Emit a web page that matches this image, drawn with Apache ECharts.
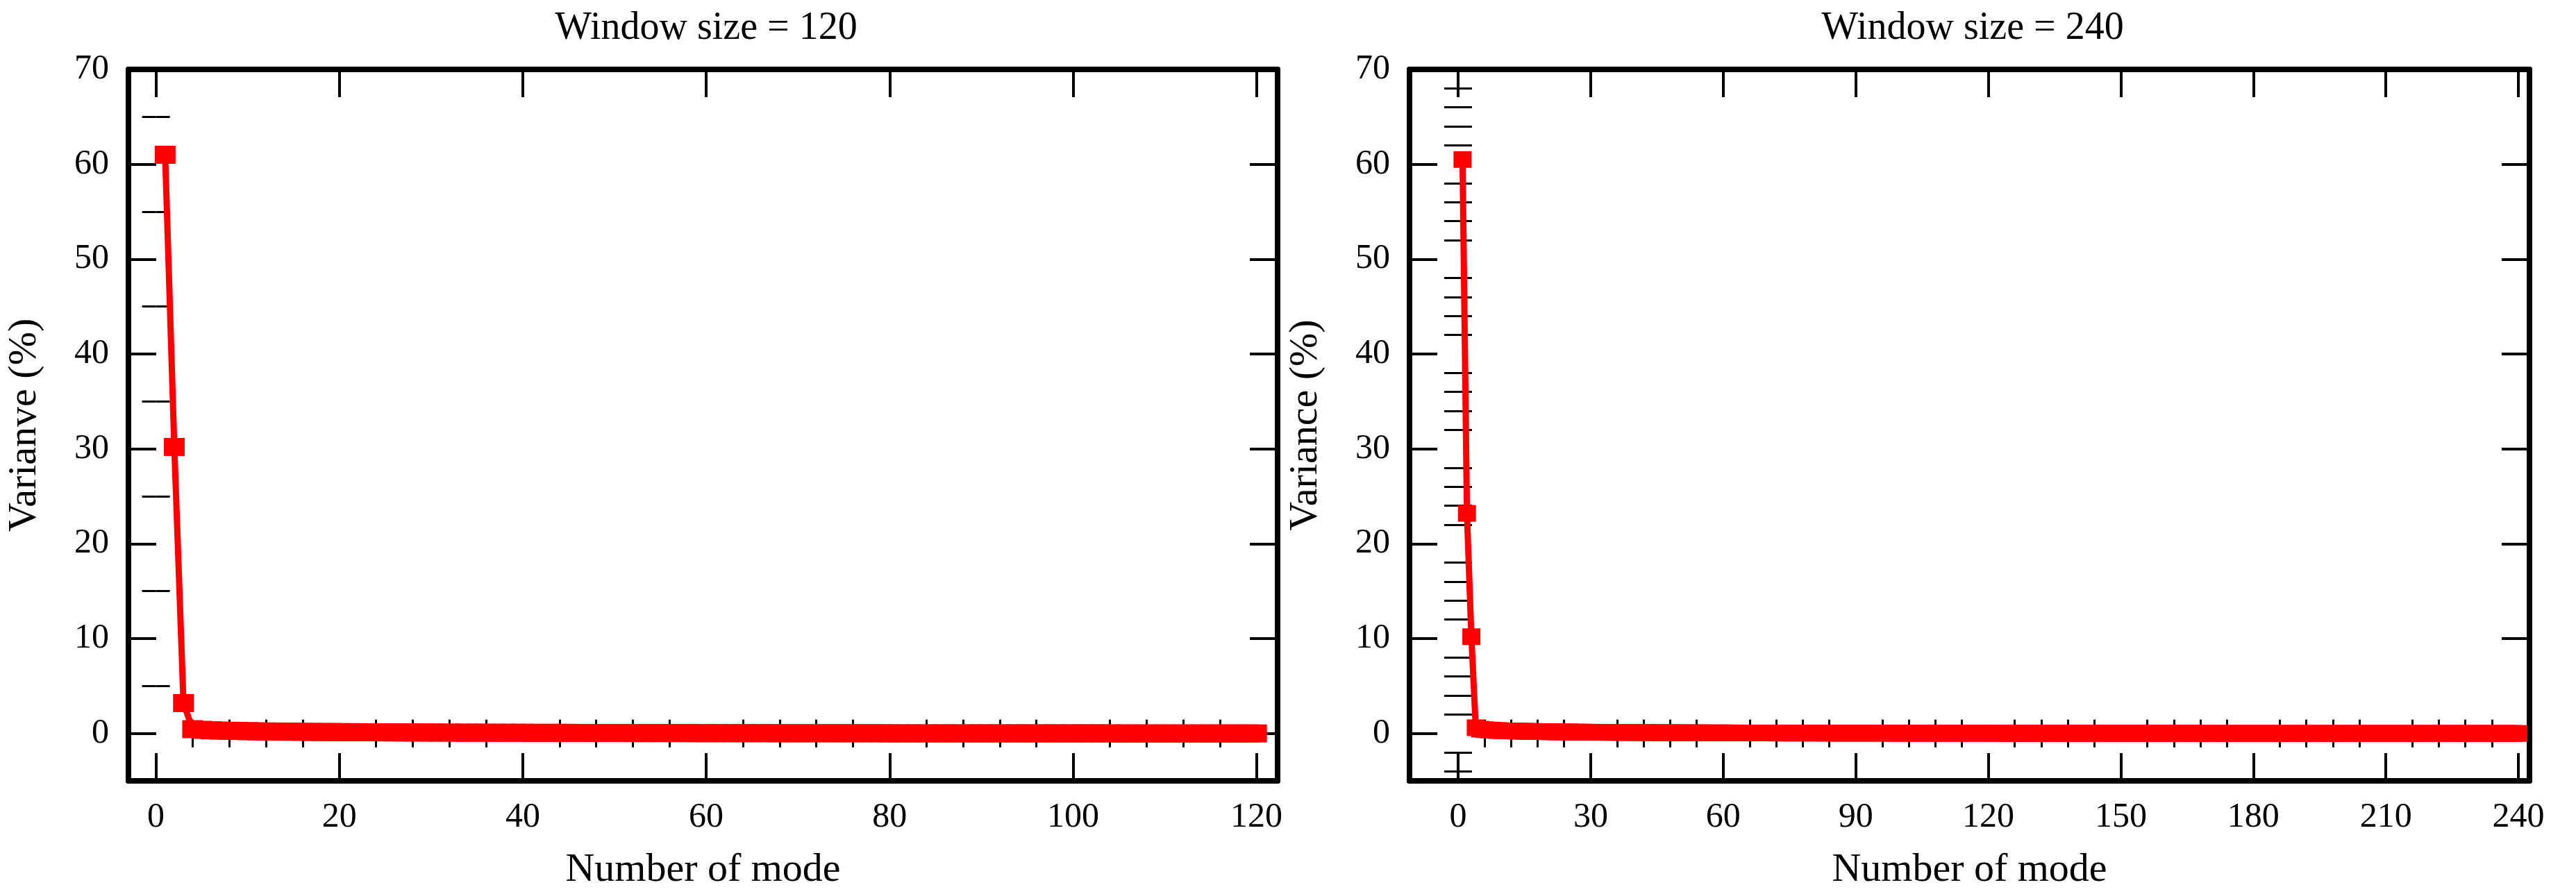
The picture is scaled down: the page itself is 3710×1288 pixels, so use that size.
<!DOCTYPE html>
<html>
<head>
<meta charset="utf-8">
<script src="https://cdn.jsdelivr.net/npm/echarts@6/dist/echarts.min.js"></script>
<style>html,body{margin:0;padding:0;background:#fff}#chart{width:3710px;height:1288px}</style>
</head>
<body>
<div id="chart"></div>
<script>
// variance (%) per mode, window size 120
var variance120 = [
  61.0, 30.2, 3.2, 0.45, 0.38, 0.33, 0.30, 0.28, 0.26, 0.24,
  0.22, 0.21, 0.20, 0.19, 0.18, 0.17, 0.16, 0.15, 0.15, 0.14,
  0.13, 0.13, 0.12, 0.12, 0.11, 0.11, 0.10, 0.10, 0.10, 0.09,
  0.09, 0.09, 0.08, 0.08, 0.08, 0.08, 0.07, 0.07, 0.07, 0.07,
  0.06, 0.06, 0.06, 0.06, 0.06, 0.05, 0.05, 0.05, 0.05, 0.05,
  0.05, 0.04, 0.04, 0.04, 0.04, 0.04, 0.04, 0.04, 0.03, 0.03,
  0.03, 0.03, 0.03, 0.03, 0.03, 0.03, 0.03, 0.02, 0.02, 0.02,
  0.02, 0.02, 0.02, 0.02, 0.02, 0.02, 0.02, 0.02, 0.02, 0.01,
  0.01, 0.01, 0.01, 0.01, 0.01, 0.01, 0.01, 0.01, 0.01, 0.01,
  0.01, 0.01, 0.01, 0.01, 0.01, 0.01, 0.01, 0.01, 0.01, 0.01,
  0.01, 0.01, 0.01, 0.01, 0.00, 0.00, 0.00, 0.00, 0.00, 0.00,
  0.00, 0.00, 0.00, 0.00, 0.00, 0.00, 0.00, 0.00, 0.00, 0.00
];
// variance (%) per mode, window size 240
var variance240 = [
  60.5, 23.2, 10.2, 0.60, 0.45, 0.40, 0.36, 0.33, 0.31, 0.29,
  0.27, 0.26, 0.25, 0.24, 0.23, 0.22, 0.21, 0.20, 0.19, 0.18,
  0.18, 0.17, 0.16, 0.16, 0.15, 0.15, 0.14, 0.14, 0.13, 0.13,
  0.12, 0.12, 0.12, 0.11, 0.11, 0.11, 0.10, 0.10, 0.10, 0.10,
  0.09, 0.09, 0.09, 0.09, 0.08, 0.08, 0.08, 0.08, 0.08, 0.07,
  0.07, 0.07, 0.07, 0.07, 0.07, 0.06, 0.06, 0.06, 0.06, 0.06,
  0.06, 0.06, 0.05, 0.05, 0.05, 0.05, 0.05, 0.05, 0.05, 0.05,
  0.05, 0.04, 0.04, 0.04, 0.04, 0.04, 0.04, 0.04, 0.04, 0.04,
  0.04, 0.04, 0.03, 0.03, 0.03, 0.03, 0.03, 0.03, 0.03, 0.03,
  0.03, 0.03, 0.03, 0.03, 0.03, 0.03, 0.03, 0.02, 0.02, 0.02,
  0.02, 0.02, 0.02, 0.02, 0.02, 0.02, 0.02, 0.02, 0.02, 0.02,
  0.02, 0.02, 0.02, 0.02, 0.02, 0.02, 0.02, 0.02, 0.02, 0.02,
  0.02, 0.01, 0.01, 0.01, 0.01, 0.01, 0.01, 0.01, 0.01, 0.01,
  0.01, 0.01, 0.01, 0.01, 0.01, 0.01, 0.01, 0.01, 0.01, 0.01,
  0.01, 0.01, 0.01, 0.01, 0.01, 0.01, 0.01, 0.01, 0.01, 0.01,
  0.01, 0.01, 0.01, 0.01, 0.01, 0.01, 0.01, 0.01, 0.01, 0.01,
  0.01, 0.01, 0.01, 0.01, 0.01, 0.01, 0.01, 0.01, 0.00, 0.00,
  0.00, 0.00, 0.00, 0.00, 0.00, 0.00, 0.00, 0.00, 0.00, 0.00,
  0.00, 0.00, 0.00, 0.00, 0.00, 0.00, 0.00, 0.00, 0.00, 0.00,
  0.00, 0.00, 0.00, 0.00, 0.00, 0.00, 0.00, 0.00, 0.00, 0.00,
  0.00, 0.00, 0.00, 0.00, 0.00, 0.00, 0.00, 0.00, 0.00, 0.00,
  0.00, 0.00, 0.00, 0.00, 0.00, 0.00, 0.00, 0.00, 0.00, 0.00,
  0.00, 0.00, 0.00, 0.00, 0.00, 0.00, 0.00, 0.00, 0.00, 0.00,
  0.00, 0.00, 0.00, 0.00, 0.00, 0.00, 0.00, 0.00, 0.00, 0.00
];
var titles = ['Window size = 120', 'Window size = 240'];
var yNames = ['Varianve (%)', 'Variance (%)'];
var xName = 'Number of mode';
var yTicks = [0, 10, 20, 30, 40, 50, 60, 70];
var xTicks120 = [0, 20, 40, 60, 80, 100, 120];
var xTicks240 = [0, 30, 60, 90, 120, 150, 180, 210, 240];

var font = '"Liberation Serif", "DejaVu Serif", serif';
var red = '#ff0000';

function pairs(arr) {
  return arr.map(function (v, i) { return [i + 1, v]; });
}

function minorsOf(lo, hi, step, major) {
  var out = [];
  for (var t = lo; t <= hi + 1e-9; t += step) {
    if (Math.abs(t / major - Math.round(t / major)) > 1e-6) out.push(t);
  }
  return out;
}

var xAxes = [], yAxes = [];

function addAxes(gi, xmin, xmax, xMajor, xMinor, yName, yMinor) {
  var lineStyle = {color: '#000', width: 8};
  ['bottom', 'top'].forEach(function (pos) {
    var isMain = pos === 'bottom';
    xAxes.push({
      gridIndex: gi, type: 'value', min: xmin, max: xmax, position: pos,
      name: isMain ? xName : '', nameLocation: 'middle', nameGap: 100,
      nameTextStyle: {fontFamily: font, fontSize: 58, color: '#000'},
      axisLine: {onZero: false, lineStyle: lineStyle},
      axisTick: {inside: true, length: 40, customValues: xMajor, lineStyle: {color: '#000', width: 4}},
      axisLabel: isMain ? {fontFamily: font, fontSize: 50, color: '#000', margin: 28, customValues: xMajor}
                        : {show: false},
      splitLine: {show: false}
    });
    xAxes.push({
      gridIndex: gi, type: 'value', min: xmin, max: xmax, position: pos,
      axisLine: {show: false}, axisLabel: {show: false}, splitLine: {show: false},
      axisTick: {inside: true, length: 20, customValues: xMinor, lineStyle: {color: '#000', width: 3}}
    });
  });
  ['left', 'right'].forEach(function (pos) {
    var isMain = pos === 'left';
    yAxes.push({
      gridIndex: gi, type: 'value', min: -5, max: 70, position: pos,
      name: isMain ? yName : '', nameLocation: 'middle', nameGap: 120,
      nameTextStyle: {fontFamily: font, fontSize: 58, color: '#000'},
      axisLine: {onZero: false, lineStyle: lineStyle},
      axisTick: {inside: true, length: 40, customValues: yTicks, lineStyle: {color: '#000', width: 4}},
      axisLabel: isMain ? {fontFamily: font, fontSize: 50, color: '#000', margin: 28, customValues: yTicks}
                        : {show: false},
      splitLine: {show: false}
    });
    yAxes.push({
      gridIndex: gi, type: 'value', min: -5, max: 70, position: pos,
      axisLine: {show: false}, axisLabel: {show: false}, splitLine: {show: false},
      axisTick: {inside: true, length: 20, customValues: yMinor, lineStyle: {color: '#000', width: 3}}
    });
  });
}

addAxes(0, -3, 122.3, xTicks120, minorsOf(0, 120, 4, 20), yNames[0], minorsOf(-5, 70, 5, 10));
addAxes(1, -11, 242.5, xTicks240, minorsOf(0, 240, 6, 30), yNames[1], minorsOf(-4, 70, 2, 10));

function lineSeries(xi, yi, arr, sym) {
  return {
    type: 'line', xAxisIndex: xi, yAxisIndex: yi, data: pairs(arr),
    symbol: 'rect', symbolSize: sym, showSymbol: true,
    lineStyle: {color: red, width: 9}, itemStyle: {color: red},
    animation: false, z: 5
  };
}

var option = {
  backgroundColor: '#fff',
  animation: false,
  title: [
    {text: titles[0], left: 1012, top: 8, textAlign: 'center',
      textStyle: {fontFamily: font, fontSize: 56, fontWeight: 'normal', color: '#000'}},
    {text: titles[1], left: 2836, top: 8, textAlign: 'center',
      textStyle: {fontFamily: font, fontSize: 56, fontWeight: 'normal', color: '#000'}}
  ],
  grid: [
    {left: 185, right: 1870, top: 100, bottom: 145},
    {left: 2030, right: 67, top: 100, bottom: 145}
  ],
  xAxis: xAxes,
  yAxis: yAxes,
  series: [
    lineSeries(0, 0, variance120, [30, 26]),
    lineSeries(4, 4, variance240, [26, 24])
  ]
};

echarts.init(document.getElementById('chart')).setOption(option);
</script>
</body>
</html>
